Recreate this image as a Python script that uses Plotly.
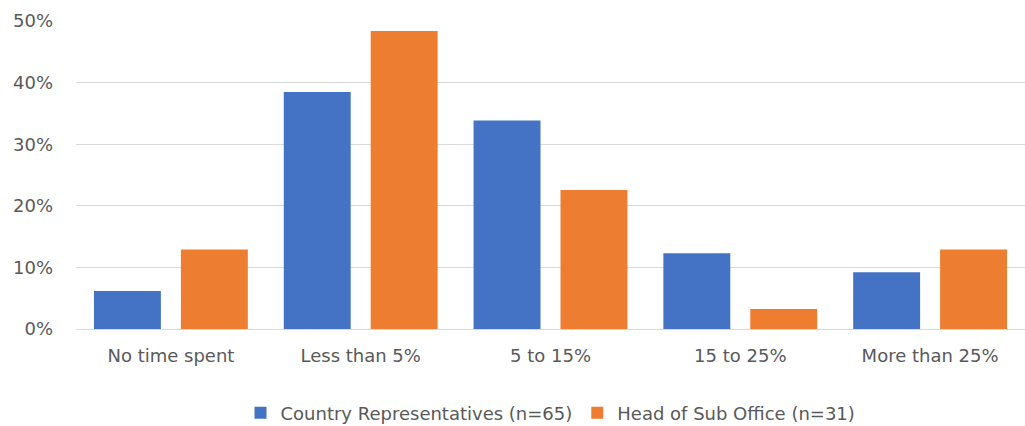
import plotly.graph_objects as go

categories = ["No time spent", "Less than 5%", "5 to 15%", "15 to 25%", "More than 25%"]
country_reps = [0.0615, 0.3846, 0.3385, 0.1231, 0.0923]
head_sub_office = [0.1290, 0.4839, 0.2258, 0.0323, 0.1290]
series_names = ["Country Representatives (n=65)", "Head of Sub Office (n=31)"]
y_ticks = [0, 0.1, 0.2, 0.3, 0.4, 0.5]

FONT = "DejaVu Sans"
TEXT = "#595959"

fig = go.Figure()
fig.add_bar(x=categories, y=country_reps, name=series_names[0],
            marker=dict(color="#4472C4", line=dict(width=0)))
fig.add_bar(x=categories, y=head_sub_office, name=series_names[1],
            marker=dict(color="#ED7D31", line=dict(width=0)))

fig.update_layout(
    width=1025, height=426,
    margin=dict(l=76, r=0, t=21, b=97, autoexpand=False),
    paper_bgcolor="white", plot_bgcolor="white",
    barmode="group", bargap=0.084, bargroupgap=0.23,
    font=dict(family=FONT, size=18, color=TEXT),
    legend=dict(orientation="h", x=0.5, xanchor="center",
                yref="container", y=13 / 426, yanchor="middle",
                font=dict(family=FONT, size=18, color=TEXT), itemwidth=30, tracegroupgap=0),
    showlegend=True,
)
fig.update_yaxes(range=[0, 0.5], tickvals=y_ticks, tickformat=".0%",
                 showgrid=True, gridcolor="#D9D9D9", gridwidth=1,
                 zeroline=False, showline=False, ticks="", ticklabelstandoff=22)
fig.update_xaxes(showline=True, linecolor="#D9D9D9", linewidth=1, ticks="",
                 ticklabelstandoff=10)

fig.write_html("out.html")
